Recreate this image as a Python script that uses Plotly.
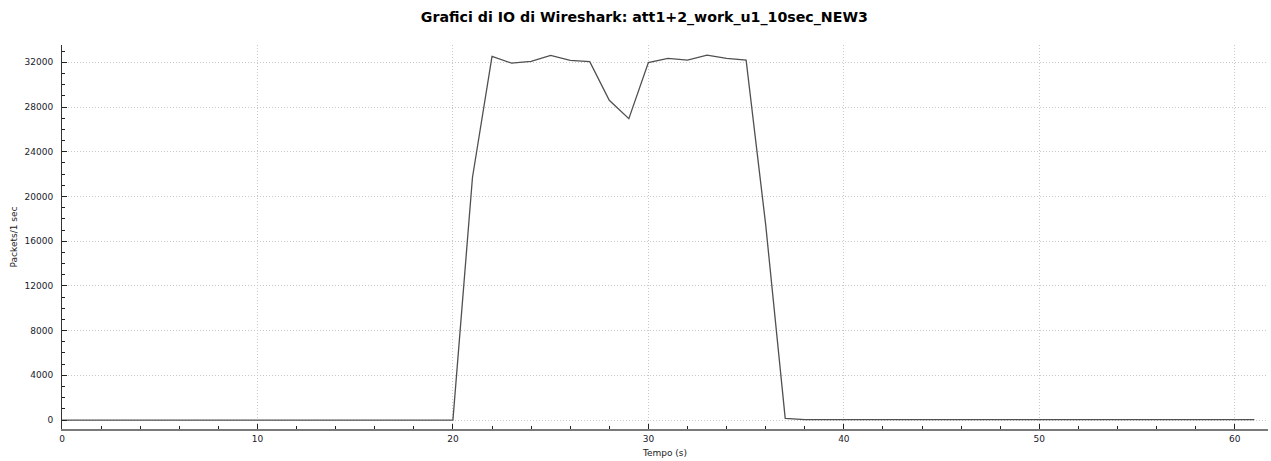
import plotly.graph_objects as go

# Time (s) and packets per 1 sec
seconds = list(range(0, 62))
packets = ([0] * 21 +
           [21700, 32530, 31930, 32080, 32620, 32170, 32060, 28600, 26960,
            31970, 32350, 32200, 32650, 32350, 32200, 17500, 150] +
           [30] * 24)

title_text = "Grafici di IO di Wireshark: att1+2_work_u1_10sec_NEW3"
x_title = "Tempo (s)"
y_title = "Packets/1 sec"

fig = go.Figure()
fig.add_trace(go.Scatter(
    x=seconds, y=packets, mode="lines",
    line=dict(color="#505050", width=1.3),
    hoverinfo="x+y", showlegend=False,
))

tick_font = dict(family="DejaVu Sans", size=9, color="#1a1a2a")
grid_dash = "1px,2px"

fig.update_layout(
    width=1271, height=461,
    margin=dict(l=62, r=3, t=45, b=32),
    paper_bgcolor="white", plot_bgcolor="white",
    title=dict(text="<b>" + title_text + "</b>", x=0.507, xanchor="center",
               y=0.963, yanchor="middle",
               font=dict(family="DejaVu Sans", size=14.2, color="black")),
    xaxis=dict(
        range=[0, 61.7], tickmode="linear", tick0=0, dtick=10,
        showgrid=True, gridcolor="#c8c8c8", griddash=grid_dash, gridwidth=1,
        showline=True, linecolor="#7a7a7a", linewidth=2,
        ticks="inside", ticklen=5, tickcolor="#222", tickwidth=1,
        minor=dict(ticks="inside", dtick=2, ticklen=3, tickcolor="#222", showgrid=False),
        tickfont=tick_font, zeroline=False, tickformat="d",
        title=dict(text=x_title, font=dict(family="DejaVu Sans", size=9, color="#222"), standoff=7),
    ),
    yaxis=dict(
        range=[-800, 33550], tickmode="linear", tick0=0, dtick=4000,
        showgrid=True, gridcolor="#c8c8c8", griddash=grid_dash, gridwidth=1,
        showline=True, linecolor="#333", linewidth=1,
        ticks="inside", ticklen=5, tickcolor="#222", tickwidth=1,
        minor=dict(ticks="inside", dtick=1000, ticklen=3, tickcolor="#222", showgrid=False),
        tickfont=tick_font, zeroline=False, ticklabelstandoff=6, tickformat="d",
        title=dict(text=y_title, font=dict(family="DejaVu Sans", size=9, color="#222"), standoff=5),
    ),
)

fig.write_html("out.html")
